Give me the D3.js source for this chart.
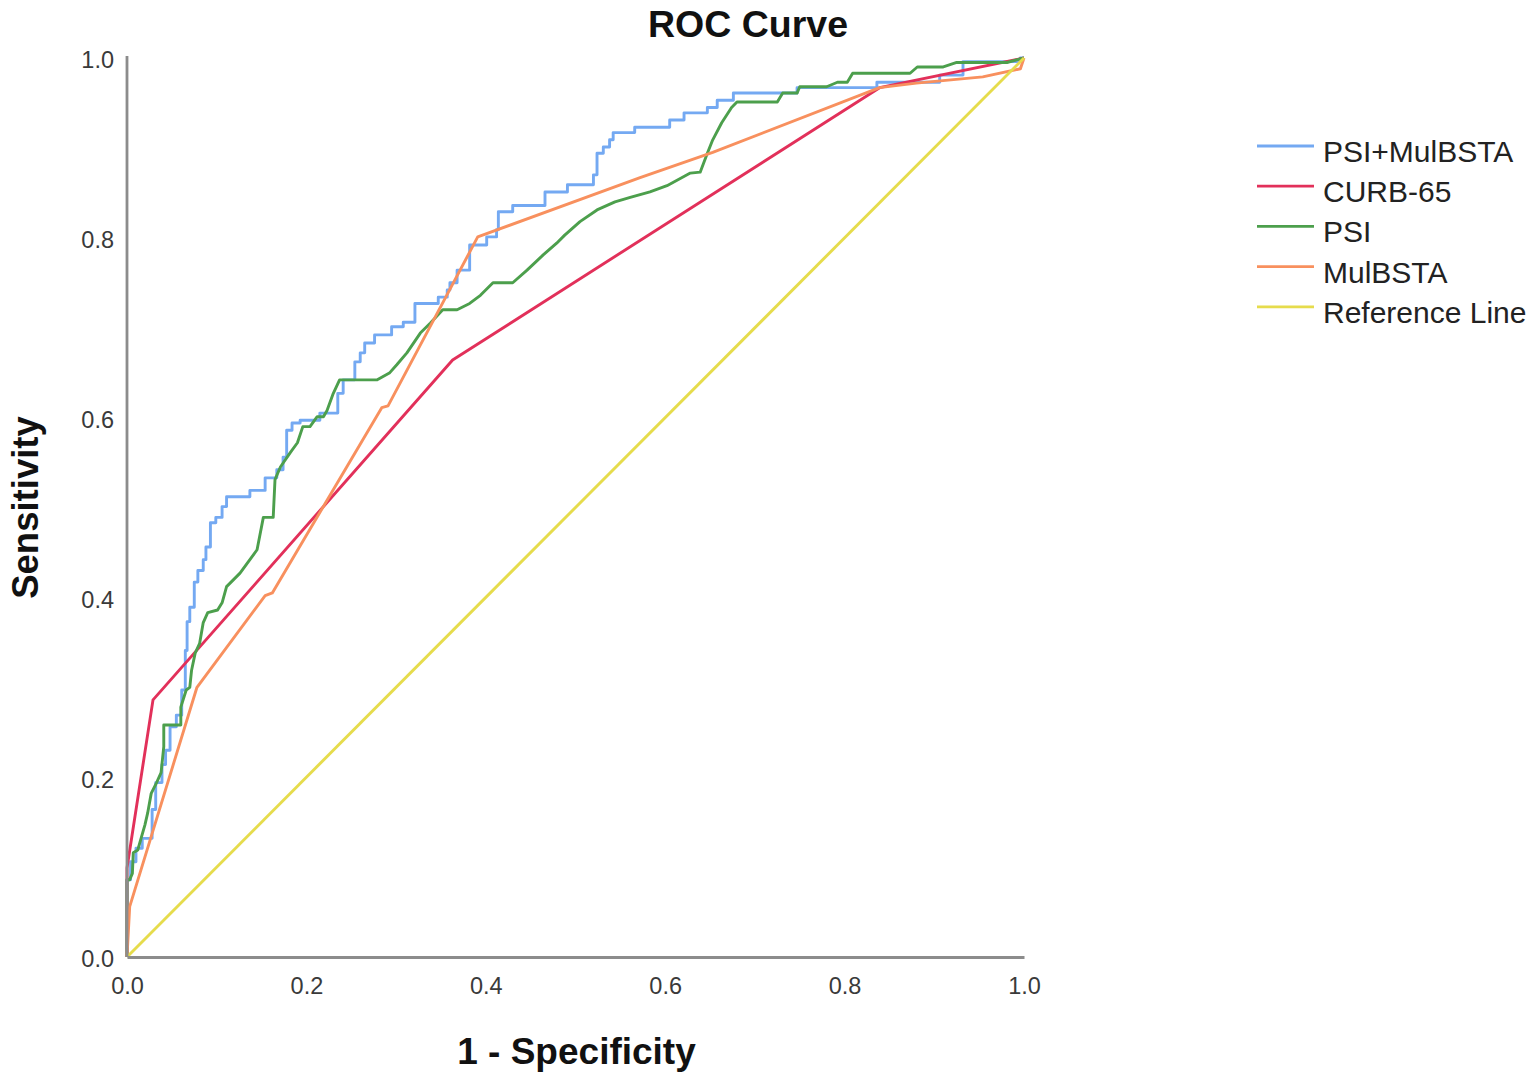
<!DOCTYPE html>
<html>
<head>
<meta charset="utf-8">
<script src="https://cdn.jsdelivr.net/npm/d3@7"></script>
<style>
  body { margin: 0; background: #fff; font-family: "Liberation Sans", Arial, sans-serif; }
  svg { display: block; }
</style>
</head>
<body>
<svg id="chart" width="1535" height="1082"></svg>
<script>
// ROC points: [1 - specificity, sensitivity]
const psiMulbsta = [
  [0, 0], [0.004, 0.086], [0.010, 0.106], [0.017, 0.121], [0.028, 0.132], [0.032, 0.164],
  [0.039, 0.194], [0.043, 0.214], [0.048, 0.230], [0.055, 0.256], [0.061, 0.269], [0.065, 0.297],
  [0.067, 0.341], [0.070, 0.373], [0.075, 0.389], [0.079, 0.417], [0.085, 0.430], [0.088, 0.442],
  [0.093, 0.456], [0.099, 0.483], [0.106, 0.489], [0.111, 0.501], [0.137, 0.512], [0.154, 0.519],
  [0.167, 0.533], [0.174, 0.542], [0.178, 0.556], [0.184, 0.586], [0.193, 0.594], [0.215, 0.597],
  [0.235, 0.605], [0.241, 0.627], [0.254, 0.642], [0.260, 0.662], [0.265, 0.672], [0.276, 0.683],
  [0.295, 0.692], [0.308, 0.701], [0.321, 0.706], [0.347, 0.727], [0.357, 0.734], [0.360, 0.742],
  [0.368, 0.750], [0.382, 0.764], [0.401, 0.792], [0.412, 0.801], [0.414, 0.809], [0.430, 0.829],
  [0.466, 0.836], [0.491, 0.851], [0.520, 0.859], [0.524, 0.870], [0.531, 0.894], [0.538, 0.901],
  [0.542, 0.909], [0.566, 0.917], [0.605, 0.923], [0.621, 0.931], [0.647, 0.939], [0.658, 0.945],
  [0.676, 0.953], [0.747, 0.961], [0.836, 0.967], [0.906, 0.973], [0.932, 0.981], [0.996, 0.996],
  [1, 1]
]

const curb65 = [
  [0, 0], [0, 0.099], [0.029, 0.286], [0.363, 0.664], [0.839, 0.967], [1, 1]
]

const psi = [
  [0, 0], [0, 0.086], [0.003, 0.086], [0.006, 0.093], [0.007, 0.116], [0.012, 0.119],
  [0.016, 0.133], [0.020, 0.147], [0.023, 0.160], [0.027, 0.182], [0.033, 0.194], [0.038, 0.205],
  [0.041, 0.234], [0.041, 0.258], [0.060, 0.258], [0.060, 0.278], [0.066, 0.297], [0.070, 0.300],
  [0.072, 0.319], [0.076, 0.338], [0.081, 0.349], [0.085, 0.372], [0.090, 0.383], [0.101, 0.386],
  [0.106, 0.394], [0.111, 0.412], [0.126, 0.427], [0.137, 0.442], [0.145, 0.453], [0.152, 0.489],
  [0.163, 0.489], [0.165, 0.531], [0.171, 0.545], [0.182, 0.561], [0.190, 0.572], [0.196, 0.590],
  [0.204, 0.590], [0.212, 0.601], [0.219, 0.601], [0.223, 0.608], [0.230, 0.627], [0.237, 0.642],
  [0.279, 0.642], [0.293, 0.650], [0.301, 0.659], [0.312, 0.672], [0.327, 0.694], [0.338, 0.705],
  [0.352, 0.720], [0.368, 0.720], [0.382, 0.727], [0.394, 0.736], [0.408, 0.750], [0.430, 0.750],
  [0.446, 0.764], [0.464, 0.781], [0.479, 0.794], [0.488, 0.803], [0.505, 0.818], [0.524, 0.831],
  [0.544, 0.840], [0.561, 0.845], [0.583, 0.851], [0.602, 0.858], [0.628, 0.872], [0.639, 0.873],
  [0.647, 0.894], [0.653, 0.909], [0.663, 0.928], [0.674, 0.945], [0.680, 0.951], [0.725, 0.951],
  [0.731, 0.961], [0.747, 0.961], [0.750, 0.968], [0.780, 0.968], [0.792, 0.973], [0.803, 0.973],
  [0.809, 0.983], [0.873, 0.983], [0.881, 0.990], [0.910, 0.990], [0.925, 0.995], [0.981, 0.995],
  [1, 1]
]

const mulbsta = [
  [0, 0], [0.003, 0.056], [0.078, 0.300], [0.154, 0.402], [0.162, 0.405], [0.284, 0.611],
  [0.291, 0.613], [0.391, 0.801], [0.572, 0.867], [0.653, 0.895], [0.839, 0.967], [0.880, 0.972],
  [0.954, 0.979], [0.996, 0.988], [1, 1]
]

const referenceLine = [[0, 0], [1, 1]]

const seriesNames = ["PSI+MulBSTA", "CURB-65", "PSI", "MulBSTA", "Reference Line"]
const seriesColors = ["#74a9f2", "#e2305a", "#4c9f4c", "#f8905e", "#e6dc4c"]
const xTicks = [0, 0.2, 0.4, 0.6, 0.8, 1.0]
const yTicks = [0, 0.2, 0.4, 0.6, 0.8, 1.0]

const series = [
  { name: seriesNames[0], color: seriesColors[0], values: psiMulbsta, curve: d3.curveStepBefore },
  { name: seriesNames[1], color: seriesColors[1], values: curb65, curve: d3.curveLinear },
  { name: seriesNames[2], color: seriesColors[2], values: psi, curve: d3.curveLinear },
  { name: seriesNames[3], color: seriesColors[3], values: mulbsta, curve: d3.curveLinear },
  { name: seriesNames[4], color: seriesColors[4], values: referenceLine, curve: d3.curveLinear }
]

const svg = d3.select("#chart")

const margin = { left: 127, top: 58, right: 511, bottom: 125 }
const plotW = 1535 - margin.left - margin.right
const plotH = 1082 - margin.top - margin.bottom

const x = d3.scaleLinear().domain([0, 1]).range([margin.left, margin.left + plotW])
const y = d3.scaleLinear().domain([0, 1]).range([margin.top + plotH, margin.top])

// curves
const lines = svg.append("g")
series.forEach(s => {
  const line = d3.line()
    .x(d => x(d[0]))
    .y(d => y(d[1]))
    .curve(s.curve)
  lines.append("path")
    .datum(s.values)
    .attr("d", line)
    .attr("fill", "none")
    .attr("stroke", s.color)
    .attr("stroke-width", 2.9)
    .attr("stroke-linejoin", "round")
})

// axes
const xAxis = svg.append("g")
  .attr("transform", `translate(0, ${y(0)})`)
  .call(d3.axisBottom(x).tickValues(xTicks).tickFormat(d3.format(".1f")).tickSize(0).tickPadding(20))
const yAxis = svg.append("g")
  .attr("transform", `translate(${x(0)}, 0)`)
  .call(d3.axisLeft(y).tickValues(yTicks).tickFormat(d3.format(".1f")).tickSize(0).tickPadding(13))

;[xAxis, yAxis].forEach(a => {
  a.select(".domain").attr("stroke", "#8c8c8c").attr("stroke-width", 2.8)
  a.selectAll("text")
    .attr("fill", "#3a3a3a")
    .style("font-family", "'Liberation Sans', Arial, sans-serif")
    .style("font-size", "23.5px")
})
yAxis.selectAll("text").attr("dy", "0.42em")
yAxis.select(".domain").attr("d", `M0,${y(1) - 2}V${y(0)}`)

// titles
svg.append("text")
  .attr("x", 748).attr("y", 37)
  .attr("text-anchor", "middle")
  .style("font-size", "37.5px").style("font-weight", "bold")
  .attr("fill", "#111")
  .text("ROC Curve")

svg.append("text")
  .attr("x", x(0.5) + 1).attr("y", 1064)
  .attr("text-anchor", "middle")
  .style("font-size", "37px").style("font-weight", "bold")
  .attr("fill", "#111")
  .text("1 - Specificity")

svg.append("text")
  .attr("transform", `translate(38, ${y(0.5)}) rotate(-90)`)
  .attr("text-anchor", "middle")
  .style("font-size", "36.5px").style("font-weight", "bold")
  .attr("fill", "#111")
  .text("Sensitivity")

// legend
const legend = svg.append("g").attr("transform", "translate(1257, 146)")
series.forEach((s, i) => {
  const row = legend.append("g").attr("transform", `translate(0, ${i * 40.2})`)
  row.append("line")
    .attr("x1", 0).attr("x2", 57)
    .attr("y1", 0).attr("y2", 0)
    .attr("stroke", s.color)
    .attr("stroke-width", 2.8)
  row.append("text")
    .attr("x", 66).attr("y", 16)
    .style("font-size", "30px")
    .attr("fill", "#222")
    .text(s.name)
})
</script>
</body>
</html>
